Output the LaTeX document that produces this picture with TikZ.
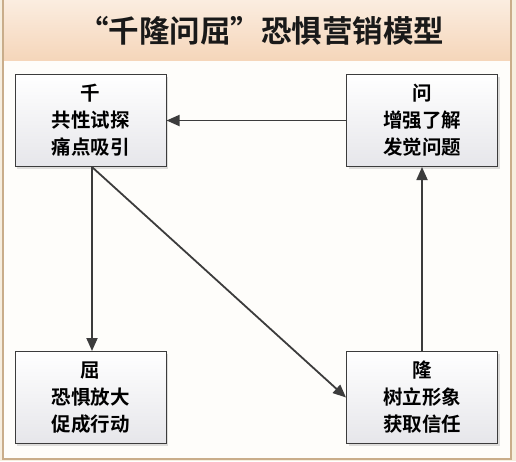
\documentclass[tikz,border=0pt]{standalone}
\usepackage{fontspec}
\setmainfont{Noto Sans CJK SC}
\newfontfamily\cjkb{Noto Sans CJK SC}[BoldFont={* Bold}]
\usetikzlibrary{arrows.meta,shadows}
\definecolor{outerbg}{HTML}{F6EEDF}
\definecolor{framec}{HTML}{C9AD8A}
\definecolor{innerbg}{HTML}{FEFDFA}
\definecolor{titletop}{HTML}{FBEDE0}
\definecolor{titlebot}{HTML}{F5D6BA}
\definecolor{linec}{HTML}{3C3C3C}
\definecolor{boxbot}{HTML}{E6E6EA}
\begin{document}
\begin{tikzpicture}[x=1pt,y=-1pt,
  stagebox/.style={draw=linec,line width=1pt,top color=white,bottom color=boxbot,
    minimum width=151pt,minimum height=92pt,align=center,inner sep=0pt,
    font=\cjkb\bfseries\fontsize{19.5}{27}\selectfont,
    drop shadow={shadow xshift=2pt,shadow yshift=-2pt,opacity=0.25,fill=gray}},
  flow/.style={draw=linec,line width=1.8pt,-{Triangle[length=13pt,width=11pt]}}]
\useasboundingbox (0,0) rectangle (516,461);
\fill[outerbg] (0,0) rectangle (516,461);
\fill[innerbg] (3,0) rectangle (511,459);
\shade[top color=titletop,bottom color=titlebot] (3,0) rectangle (511,60);
\draw[framec,line width=1.2pt] (3,-2) -- (3,459) -- (511,459) -- (511,-2);
\node[font=\cjkb\bfseries\fontsize{30.5}{33}\selectfont,text=black!90] (title) at (261,31) {“千隆问屈”恐惧营销模型};
\node[stagebox] (qian) at (90.5,120.5) {千\\共性试探\\痛点吸引};
\node[stagebox] (wen) at (422,120.5) {问\\增强了解\\发觉问题};
\node[stagebox] (qu) at (90.5,397.5) {屈\\恐惧放大\\促成行动};
\node[stagebox] (long) at (422,397.5) {隆\\树立形象\\获取信任};
\coordinate (qs) at ([xshift=1.5pt]qian.south);
\draw[flow] (wen.west) -- (qian.east);
\draw[flow] (qs) -- (qs |- qu.north);
\draw[flow] (qs) -- (long.west);
\draw[flow] (long.north) -- (wen.south);
\end{tikzpicture}
\end{document}
